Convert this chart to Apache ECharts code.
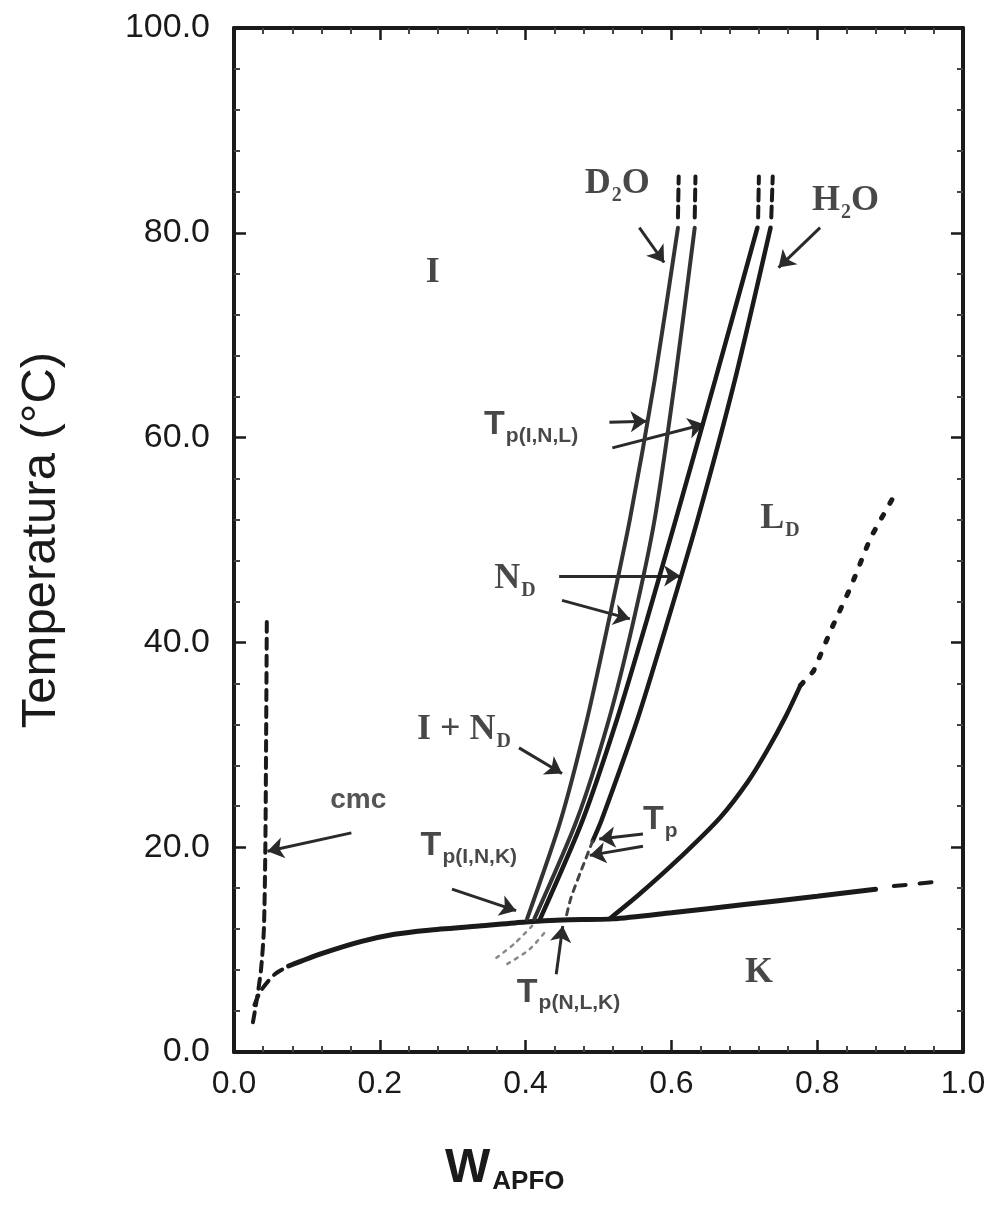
<!DOCTYPE html>
<html><head><meta charset="utf-8">
<script src="https://cdn.jsdelivr.net/npm/echarts@6/dist/echarts.min.js"></script>
<style>html,body{margin:0;padding:0;background:#fff}#c{width:992px;height:1218px}</style>
</head><body><div id="c"></div>
<script>
// ---- tick labels ----
const xTickLabels = ['0.0', '0.2', '0.4', '0.6', '0.8', '1.0'];
const yTickLabels = ['0.0', '20.0', '40.0', '60.0', '80.0', '100.0'];

// ---- curves [W_APFO, T(°C)] ----
const cmcLine = [[0.045, 42], [0.044, 30], [0.043, 20], [0.041, 12], [0.037, 8], [0.031, 5], [0.025, 2.5]];
const krafftLeftDash = [[0.028, 4.6], [0.037, 6.0], [0.056, 7.6], [0.075, 8.4]];
const krafftLine = [[0.075, 8.4], [0.12, 9.6], [0.175, 10.8], [0.22, 11.5], [0.267, 11.9], [0.336, 12.3], [0.40, 12.7], [0.45, 12.9], [0.52, 13.0], [0.60, 13.6], [0.70, 14.4], [0.80, 15.2], [0.88, 15.9]];
const krafftRightDash = [[0.905, 16.2], [0.96, 16.6]];
const kLdLine = [[0.515, 13.0], [0.556, 15.4], [0.612, 19.0], [0.667, 22.9], [0.705, 26.4], [0.731, 29.4], [0.757, 32.8], [0.777, 35.8]];
const kLdDotted = [[0.777, 35.8], [0.795, 37.2], [0.82, 41.4], [0.846, 45.4], [0.873, 50.2], [0.903, 54.0]];
const d2oLeft = [[0.402, 13.0], [0.448, 22.6], [0.484, 32.4], [0.514, 42.1], [0.543, 52.0], [0.577, 65.6], [0.609, 80.5]];
const d2oRight = [[0.412, 13.0], [0.470, 22.6], [0.514, 32.4], [0.548, 42.1], [0.577, 52.0], [0.605, 65.6], [0.632, 80.5]];
const h2oLeft = [[0.420, 13.0], [0.478, 22.6], [0.525, 32.4], [0.566, 42.1], [0.606, 52.0], [0.660, 65.6], [0.718, 80.5]];
const h2oRight = [[0.492, 20.6], [0.504, 22.6], [0.553, 32.4], [0.595, 42.1], [0.636, 52.0], [0.687, 65.6], [0.736, 80.5]];
const h2oRightDash = [[0.492, 20.6], [0.475, 17.5], [0.462, 15.0], [0.455, 13.0]];
const d2oLeftTop = [[0.609, 81.5], [0.610, 85.5]];
const d2oRightTop = [[0.632, 81.5], [0.633, 85.5]];
const h2oLeftTop = [[0.719, 81.5], [0.720, 85.5]];
const h2oRightTop = [[0.737, 81.5], [0.739, 85.5]];
const metaDotA = [[0.36, 9.2], [0.385, 10.6], [0.41, 12.4]];
const metaDotB = [[0.375, 8.6], [0.405, 10.0], [0.43, 12.0]];

// ---- annotation arrows [from, to] ----
const arrows = [
  [[0.556, 80.5], [0.590, 77.1]],
  [[0.804, 80.5], [0.747, 76.6]],
  [[0.515, 61.5], [0.566, 61.6]],
  [[0.519, 59.0], [0.645, 61.3]],
  [[0.446, 46.5], [0.612, 46.5]],
  [[0.450, 44.1], [0.543, 42.3]],
  [[0.391, 29.7], [0.450, 27.2]],
  [[0.161, 21.4], [0.046, 19.6]],
  [[0.299, 15.9], [0.387, 13.8]],
  [[0.561, 21.3], [0.501, 20.8]],
  [[0.561, 20.1], [0.488, 19.2]],
  [[0.442, 7.6], [0.451, 12.3]]
];

// ---- region / boundary labels ----
const labelTexts = ['{m|I}', '{m|K}', '{m|L}{s|D}', '{m|D}{s|2}{m|O}', '{m|H}{s|2}{m|O}', '{t|T}{ts|p(I,N,L)}', '{m|N}{s|D}', '{m|I + N}{s|D}', '{c|cmc}', '{t|T}{ts|p(I,N,K)}', '{t|T}{ts|p}', '{t|T}{ts|p(N,L,K)}'];
const labelAt = [[0.263, 76.1], [0.701, 7.7], [0.722, 51.9], [0.481, 84.6], [0.793, 82.9], [0.343, 61.0], [0.357, 46.0], [0.251, 31.3], [0.132, 24.6], [0.256, 19.9], [0.561, 22.4], [0.388, 5.6]];

const INK = '#1a1a1a';
function curve(data, width, type, color, smooth) {
  return { type: 'line', data: data, xAxisIndex: 0, yAxisIndex: 0, showSymbol: false, symbol: 'none',
    smooth: smooth === undefined ? 0.25 : smooth, silent: true, animation: false,
    lineStyle: { color: color || INK, width: width, type: type || 'solid', cap: 'round' } };
}

const serif = 'Liberation Serif, DejaVu Serif, serif';
const sans = 'Liberation Sans, Arial, sans-serif';
const narrow = 'Liberation Sans Narrow, Liberation Sans, Arial, sans-serif';
const rich = {
  m: { fontFamily: serif, fontWeight: 'bold', fontSize: 36, color: INK, verticalAlign: 'top' },
  s: { fontFamily: serif, fontWeight: 'bold', fontSize: 20, color: INK, verticalAlign: 'top', padding: [20, 0, 0, 1] },
  t: { fontFamily: sans, fontWeight: 'bold', fontSize: 34, color: INK, verticalAlign: 'top' },
  ts: { fontFamily: narrow, fontWeight: 'bold', fontSize: 21, color: INK, verticalAlign: 'top', padding: [18, 0, 0, 1] },
  c: { fontFamily: sans, fontWeight: 'bold', fontSize: 28, color: '#2a2a2a' }
};

const axisCommon = {
  type: 'value', min: 0, splitLine: { show: false },
  axisLine: { show: true, onZero: false, lineStyle: { color: INK, width: 4 } },
  axisTick: { show: true, inside: true, length: 12, lineStyle: { color: INK, width: 2.5 } },
  minorTick: { show: true, splitNumber: 5, length: 6, lineStyle: { color: '#444', width: 2 } },
  minorSplitLine: { show: false }
};

const option = {
  animation: false,
  backgroundColor: '#fff',
  title: {
    text: '{w|W}{a|APFO}', left: 440, top: 1140,
    textStyle: { rich: {
      w: { fontFamily: narrow, fontWeight: 'bold', fontSize: 48, color: INK, verticalAlign: 'top' },
      a: { fontFamily: narrow, fontWeight: 'bold', fontSize: 26, color: INK, verticalAlign: 'top', padding: [24, 0, 0, 2] }
    } }
  },
  grid: { left: 234, right: 29, top: 28, bottom: 166, containLabel: false },
  xAxis: [
    Object.assign({}, axisCommon, { position: 'bottom', max: 1, interval: 0.2,
      axisLabel: { show: true, margin: 16, fontFamily: sans, fontSize: 32, color: '#1a1a1a',
        formatter: v => xTickLabels[Math.round(v / 0.2)] } }),
    Object.assign({}, axisCommon, { position: 'top', max: 1, interval: 0.2, axisLabel: { show: false } })
  ],
  yAxis: [
    Object.assign({}, axisCommon, { position: 'left', max: 100, interval: 20,
      name: 'Temperatura (°C)', nameLocation: 'middle', nameGap: 168, nameRotate: 90,
      nameTextStyle: { fontFamily: sans, fontSize: 49, color: '#1a1a1a' },
      axisLabel: { show: true, margin: 24, fontFamily: sans, fontSize: 34, color: '#1a1a1a',
        formatter: v => yTickLabels[Math.round(v / 20)] } }),
    Object.assign({}, axisCommon, { position: 'right', max: 100, interval: 20, axisLabel: { show: false } })
  ],
  series: [
    curve(cmcLine, 4, [10, 7]),
    curve(krafftLeftDash, 4, [10, 8]),
    curve(krafftLine, 5),
    curve(krafftRightDash, 4, [12, 14], null, false),
    curve(kLdLine, 4.5, 'solid', null, 0.3),
    curve(kLdDotted, 5, [4, 13], null, false),
    curve(d2oLeft, 4, 'solid', '#333'),
    curve(d2oRight, 4, 'solid', '#333'),
    curve(h2oLeft, 4.5),
    curve(h2oRight, 4.5),
    curve(h2oRightDash, 3, [6, 6], '#444'),
    curve(d2oLeftTop, 4, [11, 6], null, false),
    curve(d2oRightTop, 4, [11, 6], null, false),
    curve(h2oLeftTop, 4, [11, 6], null, false),
    curve(h2oRightTop, 4, [11, 6], null, false),
    curve(metaDotA, 2.5, [3, 6], '#888'),
    curve(metaDotB, 2.5, [3, 6], '#888'),
    {
      type: 'lines', coordinateSystem: 'cartesian2d', xAxisIndex: 0, yAxisIndex: 0, silent: true,
      symbol: ['none', 'arrow'], symbolSize: [14, 16],
      lineStyle: { color: '#2a2a2a', width: 3, curveness: 0, opacity: 1 },
      data: arrows.map(a => ({ coords: a }))
    },
    {
      type: 'scatter', xAxisIndex: 0, yAxisIndex: 0, symbolSize: 0, silent: true,
      data: labelAt.map((p, i) => ({ value: p, name: labelTexts[i] })),
      label: { show: true, position: 'right', distance: 0, formatter: p => p.name, rich: rich }
    }
  ]
};
const chart = echarts.init(document.getElementById('c'));
chart.setOption(option);
</script>
</body></html>
